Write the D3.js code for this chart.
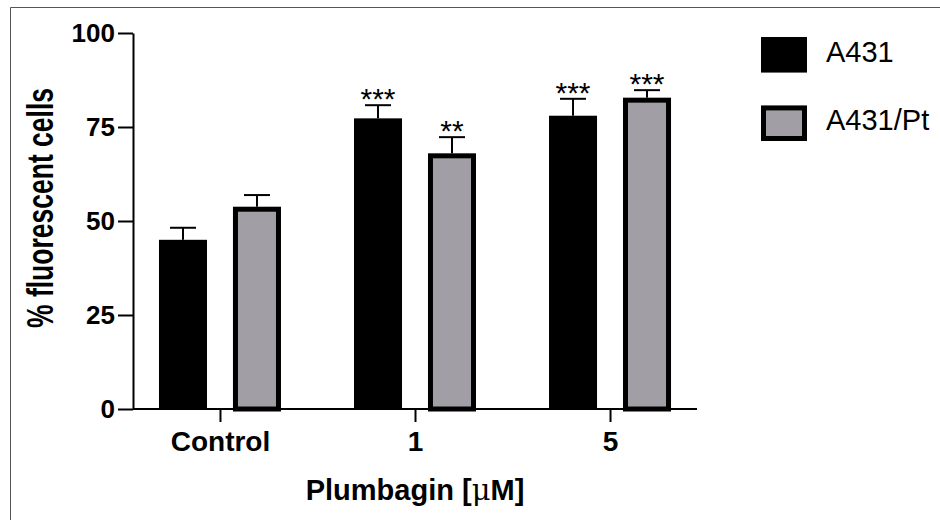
<!DOCTYPE html>
<html>
<head>
<meta charset="utf-8">
<script src="https://cdn.jsdelivr.net/npm/d3@7"></script>
<style>
	body { margin: 0; background: white; }
	svg { display: block; font-family: "Liberation Sans", Arial, sans-serif; }
</style>
</head>
<body>
<script>
// values
var groups = ['Control', '1', '5']
var series = ['A431', 'A431/Pt']
var a431 = [45, 77.3, 78]
var a431pt = [53.8, 68, 82.8]
var a431Err = [3.2, 3.5, 4.5]
var a431ptErr = [3.1, 4.3, 2]
var a431Stars = ['', '***', '***']
var a431ptStars = ['', '**', '***']
var yTicks = [0, 25, 50, 75, 100]

var width = 940,
	height = 520

var fills = { 'A431': '#000000', 'A431/Pt': '#a19fa5' }

var rows = []
groups.forEach(function(g, i) {
	rows.push({ group: g, s: 'A431', v: a431[i], err: a431Err[i], stars: a431Stars[i] })
	rows.push({ group: g, s: 'A431/Pt', v: a431pt[i], err: a431ptErr[i], stars: a431ptStars[i] })
})

var svg = d3.select('body').append('svg')
	.attr('width', width)
	.attr('height', height)

// frame of the figure panel
svg.append('path')
	.attr('d', 'M10.5,520 V7.5 H940')
	.attr('fill', 'none')
	.attr('stroke', '#555')
	.attr('stroke-width', 1)

var x0 = d3.scalePoint()
	.domain(groups)
	.range([133, 697])
	.padding(0.446)

var x1 = d3.scaleBand()
	.domain(series)
	.range([-61, 61])
	.paddingInner(0.351)

var y = d3.scaleLinear()
	.domain([0, 100])
	.range([409, 33])

var bw = 5 // thick outline of the grey bars

var bars = svg.append('g')

bars.selectAll('rect')
	.data(rows)
	.enter()
	.append('rect')
		.attr('x', d => x0(d.group) + x1(d.s) + (d.s == 'A431' ? 0 : bw / 2))
		.attr('width', d => x1.bandwidth() - (d.s == 'A431' ? 0 : bw))
		.attr('y', d => y(d.v) + (d.s == 'A431' ? 0 : bw / 2))
		.attr('height', d => y(0) - y(d.v) - (d.s == 'A431' ? 0 : bw / 2))
		.attr('fill', d => fills[d.s])
		.attr('stroke', d => d.s == 'A431' ? 'none' : 'black')
		.attr('stroke-width', bw)

// error bars (upper only)
var err = svg.append('g')
	.attr('stroke', 'black')
	.attr('stroke-width', 2)

err.selectAll('.stem')
	.data(rows)
	.enter()
	.append('line')
		.attr('x1', d => x0(d.group) + x1(d.s) + x1.bandwidth() / 2)
		.attr('x2', d => x0(d.group) + x1(d.s) + x1.bandwidth() / 2)
		.attr('y1', d => y(d.v))
		.attr('y2', d => y(d.v + d.err))

err.selectAll('.cap')
	.data(rows)
	.enter()
	.append('line')
		.attr('x1', d => x0(d.group) + x1(d.s) + x1.bandwidth() / 2 - 13)
		.attr('x2', d => x0(d.group) + x1(d.s) + x1.bandwidth() / 2 + 13)
		.attr('y1', d => y(d.v + d.err))
		.attr('y2', d => y(d.v + d.err))

// significance stars
svg.append('g').selectAll('text')
	.data(rows.filter(d => d.stars != ''))
	.enter()
	.append('text')
		.attr('x', d => x0(d.group) + x1(d.s) + x1.bandwidth() / 2)
		.attr('y', d => y(d.v + d.err) + 4)
		.attr('text-anchor', 'middle')
		.style('font-size', '30px')
		.text(d => d.stars)

// y axis
var yAxis = svg.append('g')
	.attr('transform', 'translate(133,0)')
	.call(d3.axisLeft(y).tickValues(yTicks).tickSize(15).tickSizeOuter(0).tickPadding(3))

// x axis
var xAxis = svg.append('g')
	.attr('transform', 'translate(0,409)')
	.call(d3.axisBottom(x0).tickSize(13).tickSizeOuter(0).tickPadding(9))

xAxis.select('.domain').attr('d', 'M133,0 H697')

svg.selectAll('.domain, .tick line')
	.attr('stroke', 'black')
	.attr('stroke-width', 2)

svg.selectAll('.tick text')
	.attr('fill', 'black')
	.style('font-family', '"Liberation Sans", Arial, sans-serif')
	.style('font-weight', 'bold')

yAxis.selectAll('.tick text').style('font-size', '26px')
xAxis.selectAll('.tick text').style('font-size', '28px')

// axis titles
var xTitle = svg.append('text')
	.attr('x', 415)
	.attr('y', 500)
	.attr('text-anchor', 'middle')
	.style('font-size', '29px')
	.style('font-weight', 'bold')
xTitle.append('tspan').text('Plumbagin [')
xTitle.append('tspan').style('font-family', '"DejaVu Serif", serif').style('font-weight', 'normal').text('μ')
xTitle.append('tspan').text('M]')

svg.append('text')
	.attr('transform', 'translate(53,208) rotate(-90)')
	.attr('text-anchor', 'middle')
	.attr('textLength', 240)
	.attr('lengthAdjust', 'spacingAndGlyphs')
	.style('font-size', '36px')
	.style('font-weight', 'bold')
	.text('% fluorescent cells')

// legend
var legend = svg.append('g')
	.attr('transform', 'translate(761,37)')

var ly = d3.scaleBand().domain(series).range([0, 104]).paddingInner(0.48)

legend.selectAll('rect')
	.data(series)
	.enter()
	.append('rect')
		.attr('x', s => s == 'A431' ? 0 : bw / 2)
		.attr('y', s => ly(s) + (s == 'A431' ? 0 : bw / 2))
		.attr('width', s => 46 - (s == 'A431' ? 0 : bw))
		.attr('height', s => ly.bandwidth() - (s == 'A431' ? 0 : bw))
		.attr('fill', s => fills[s])
		.attr('stroke', s => s == 'A431' ? 'none' : 'black')
		.attr('stroke-width', bw)

legend.selectAll('text')
	.data(series)
	.enter()
	.append('text')
		.attr('x', 65)
		.attr('y', s => ly(s) + 25)
		.style('font-size', '29px')
		.text(s => s)
</script>
</body>
</html>
